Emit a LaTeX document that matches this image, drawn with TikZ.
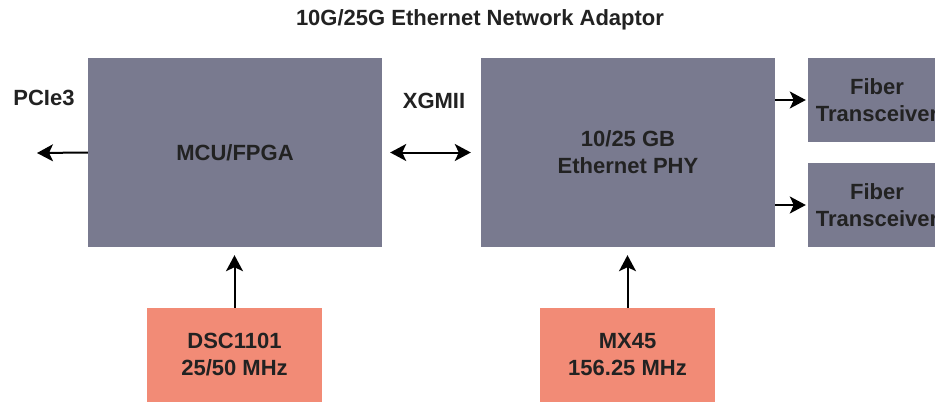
\documentclass[tikz,border=0pt]{standalone}
\usepackage{fontspec}
\setmainfont{Liberation Sans}
\usetikzlibrary{arrows.meta}
\definecolor{chipgray}{RGB}{121,122,143}
\definecolor{clksalmon}{RGB}{242,139,118}
\definecolor{inktext}{RGB}{34,34,34}
\begin{document}
\begin{tikzpicture}[x=1pt,y=-1pt,
  txt/.style={font=\fontsize{22}{27}\selectfont\bfseries, text=inktext, align=center, inner sep=0pt},
  chip/.style={fill=chipgray, draw=none, txt, inner sep=0pt},
  clk/.style={fill=clksalmon, draw=none, txt, inner sep=0pt},
  tipa/.tip={Stealth[length=16pt,width=17pt,inset=4pt]},
  conn/.style={line width=2pt, draw=black, -tipa},
  conn2/.style={line width=2pt, draw=black, tipa-tipa}
]
\clip (0,0) rectangle (935,402);
\fill[white] (0,0) rectangle (935,402);
\node[chip, minimum width=294pt, minimum height=189pt] (mcu) at (235,152.5) {MCU/FPGA};
\node[chip, minimum width=294pt, minimum height=189pt] (phy) at (628,152.5) {10/25 GB\\Ethernet PHY};
\node[chip, minimum width=138pt, minimum height=84pt] (fib1) at (877,100) {Fiber\\Transceiver};
\node[chip, minimum width=138pt, minimum height=84pt] (fib2) at (877,205) {Fiber\\Transceiver};
\node[clk, minimum width=175pt, minimum height=94pt] (dsc) at (234.5,355) {DSC1101\\25/50 MHz};
\node[clk, minimum width=175pt, minimum height=94pt] (mx) at (627.5,355) {MX45\\156.25 MHz};
\node[txt] (title) at (480,20) {10G/25G Ethernet Network Adaptor};
\node[txt] (pcie) at (44,98) {PCIe3};
\node[txt] (xgmii) at (434,101) {XGMII};
\coordinate (pcieend) at (37,153);
\draw[conn] (mcu.west) -- (pcieend);
\draw[conn2, shorten <=8pt, shorten >=10pt] (mcu.east) -- (phy.west);
\draw[conn, shorten >=2pt] (phy.east |- fib1.west) -- (fib1.west);
\draw[conn, shorten >=2pt] (phy.east |- fib2.west) -- (fib2.west);
\draw[conn, shorten >=8pt] (dsc.north) -- (mcu.south -| dsc.north);
\draw[conn, shorten >=8pt] (mx.north) -- (phy.south -| mx.north);
\end{tikzpicture}
\end{document}
